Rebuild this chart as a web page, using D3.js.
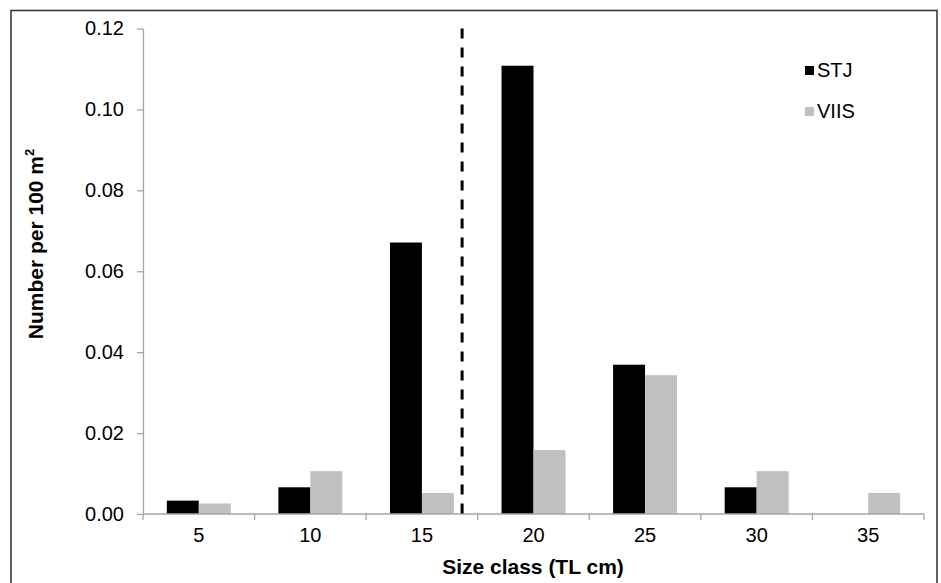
<!DOCTYPE html>
<html>
<head>
<meta charset="utf-8">
<script src="https://cdn.jsdelivr.net/npm/d3@7"></script>
<style>
  html, body { margin: 0; padding: 0; background: #fff; }
  svg { display: block; font-family: "Liberation Sans", Arial, sans-serif; }
</style>
</head>
<body>
<svg id="chart" width="941" height="583"></svg>
<script>
// ---- data ----
const categories = ["5", "10", "15", "20", "25", "30", "35"];
const seriesNames = ["STJ", "VIIS"];
const stjValues  = [0.0033, 0.0066, 0.0671, 0.1108, 0.0369, 0.0066, 0];
const viisValues = [0.0026, 0.0106, 0.0052, 0.0158, 0.0343, 0.0106, 0.0052];
const yTicks = [0, 0.02, 0.04, 0.06, 0.08, 0.10, 0.12];
const maturitySize = 16.8;   // dashed reference line (TL cm)
const colors = { STJ: "#000000", VIIS: "#c0c0c0" };

// ---- layout ----
const svg = d3.select("#chart");
const plot = { left: 143, right: 924, top: 28.5, bottom: 514 };

svg.append("rect")
  .attr("x", 11).attr("y", 10.5).attr("width", 926).attr("height", 600)
  .attr("fill", "none").attr("stroke", "#3a3a3a").attr("stroke-width", 1.6);

const x0 = d3.scaleBand().domain(categories).range([plot.left, plot.right]).padding(0);
const x1 = d3.scaleBand().domain(seriesNames).range([0, x0.bandwidth()])
  .paddingInner(0).paddingOuter(0.745);
const y = d3.scaleLinear().domain([0, 0.12]).range([plot.bottom, plot.top]);
// continuous size scale aligned with category centres
const xs = d3.scaleLinear()
  .domain([+categories[0], +categories[categories.length - 1]])
  .range([x0(categories[0]) + x0.bandwidth() / 2,
          x0(categories[categories.length - 1]) + x0.bandwidth() / 2]);

const axisColor = "#a6a6a6";
const tickFont = 20;

// y axis
const yAxis = svg.append("g")
  .attr("transform", `translate(${plot.left},0)`)
  .call(d3.axisLeft(y).tickValues(yTicks).tickFormat(d3.format(".2f"))
        .tickSize(6).tickPadding(13).tickSizeOuter(0));
yAxis.select(".domain").attr("stroke", axisColor).attr("stroke-width", 1.3);
yAxis.selectAll(".tick line").attr("stroke", axisColor).attr("stroke-width", 1.3);
yAxis.selectAll(".tick text").attr("font-size", tickFont).attr("fill", "#000")
  .attr("font-family", "Liberation Sans, Arial, sans-serif");

// bars
const data = categories.map((c, i) => ({ cat: c, values: [
  { key: "STJ", value: stjValues[i] },
  { key: "VIIS", value: viisValues[i] }
]}));

svg.append("g").selectAll("g").data(data).join("g")
  .attr("transform", d => `translate(${x0(d.cat)},0)`)
  .selectAll("rect").data(d => d.values.filter(v => v.value > 0)).join("rect")
  .attr("x", d => x1(d.key))
  .attr("width", x1.bandwidth())
  .attr("y", d => y(d.value))
  .attr("height", d => y(0) - y(d.value))
  .attr("fill", d => colors[d.key]);

// x axis
const xAxis = svg.append("g")
  .attr("transform", `translate(0,${plot.bottom})`)
  .call(d3.axisBottom(x0).tickSize(0).tickPadding(14));
xAxis.select(".domain").remove();
xAxis.selectAll(".tick text").attr("font-size", tickFont).attr("fill", "#000")
  .attr("font-family", "Liberation Sans, Arial, sans-serif");
xAxis.append("line")
  .attr("x1", plot.left).attr("x2", plot.right)
  .attr("y1", 0).attr("y2", 0)
  .attr("stroke", axisColor).attr("stroke-width", 1.3);
const boundaries = categories.map(c => x0(c)).concat([x0(categories[categories.length - 1]) + x0.bandwidth()]);
xAxis.selectAll("line.bt").data(boundaries).join("line")
  .attr("class", "bt")
  .attr("x1", d => d).attr("x2", d => d)
  .attr("y1", 0).attr("y2", 6)
  .attr("stroke", axisColor).attr("stroke-width", 1.3);

// dashed reference line
svg.append("line")
  .attr("x1", xs(maturitySize)).attr("x2", xs(maturitySize))
  .attr("y1", y(0.12)).attr("y2", y(0))
  .attr("stroke", "#000").attr("stroke-width", 3)
  .attr("stroke-dasharray", "10,9");

// axis titles
svg.append("text")
  .attr("x", 533).attr("y", 574)
  .attr("text-anchor", "middle").attr("font-weight", "bold").attr("font-size", 21)
  .text("Size class (TL cm)");

const yl = svg.append("text")
  .attr("transform", "translate(43,244) rotate(-90)")
  .attr("text-anchor", "middle").attr("font-weight", "bold").attr("font-size", 21);
yl.append("tspan").text("Number per 100 m");
yl.append("tspan").attr("font-size", 13).attr("dy", -9).text("2");

// legend
const legend = svg.append("g").attr("transform", "translate(805,66)");
seriesNames.forEach((s, i) => {
  const g = legend.append("g").attr("transform", `translate(0,${i * 41})`);
  g.append("rect").attr("width", 9).attr("height", 9).attr("fill", colors[s]);
  g.append("text").attr("x", 12).attr("y", 11).attr("font-size", 20).text(s);
});
</script>
</body>
</html>
